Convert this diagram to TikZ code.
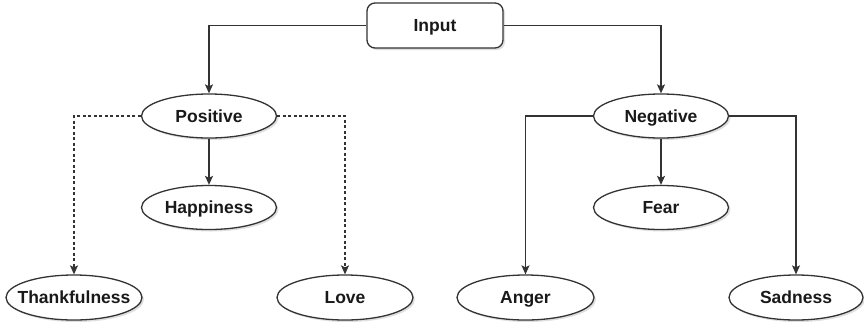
\documentclass[tikz,border=0pt]{standalone}
\usepackage{fontspec}
\setmainfont{Liberation Sans}
\usetikzlibrary{shapes.geometric,shadows,arrows.meta}
\definecolor{linec}{HTML}{333333}
\newcommand{\ztext}[1]{\makebox[0pt]{#1}}
\begin{document}
\begin{tikzpicture}[x=1pt,y=-1pt,
  base/.style={draw=linec,line width=1.3pt,fill=white,inner sep=0pt,
    text height=12.5pt,text depth=0pt,
    font=\fontsize{17.5}{20}\selectfont\bfseries,text=black!90,
    drop shadow={shadow xshift=2pt,shadow yshift=-2pt,opacity=0.25}},
  oval/.style={base,ellipse,minimum width=135pt,minimum height=44pt},
  boxnode/.style={base,rectangle,rounded corners=8pt,minimum width=136pt,minimum height=45pt},
  conn/.style={draw=linec,line width=1.2pt,-{Stealth[length=9pt,width=8pt,inset=2pt]}},
  dconn/.style={conn,dash pattern=on 3pt off 2.5pt}]
\useasboundingbox (0,0) rectangle (864,327);
\node[boxnode] (input) at (435,25.5) {\ztext{Input}};
\node[oval] (pos) at (209,116) {\ztext{Positive}};
\node[oval] (neg) at (661,116) {\ztext{Negative}};
\node[oval] (hap) at (209,207.5) {\ztext{Happiness}};
\node[oval] (fear) at (661,207.5) {\ztext{Fear}};
\node[oval,minimum width=136pt,minimum height=45pt] (thank) at (74,297.5) {\ztext{Thankfulness}};
\node[oval,minimum width=136pt,minimum height=45pt] (love) at (345,297.5) {\ztext{Love}};
\node[oval,minimum width=137pt,minimum height=45pt] (anger) at (525.5,297.5) {\ztext{Anger}};
\node[oval,minimum width=134pt,minimum height=45pt] (sad) at (796,297.5) {\ztext{Sadness}};
\draw[conn] (input.west) -| (pos.north);
\draw[conn] (input.east) -| (neg.north);
\draw[conn] (pos) -- (hap);
\draw[dconn] (pos.west) -| (thank.north);
\draw[dconn] (pos.east) -| (love.north);
\draw[conn] (neg) -- (fear);
\draw[conn] (neg.west) -| (anger.north);
\draw[conn] (neg.east) -| (sad.north);
\end{tikzpicture}
\end{document}
